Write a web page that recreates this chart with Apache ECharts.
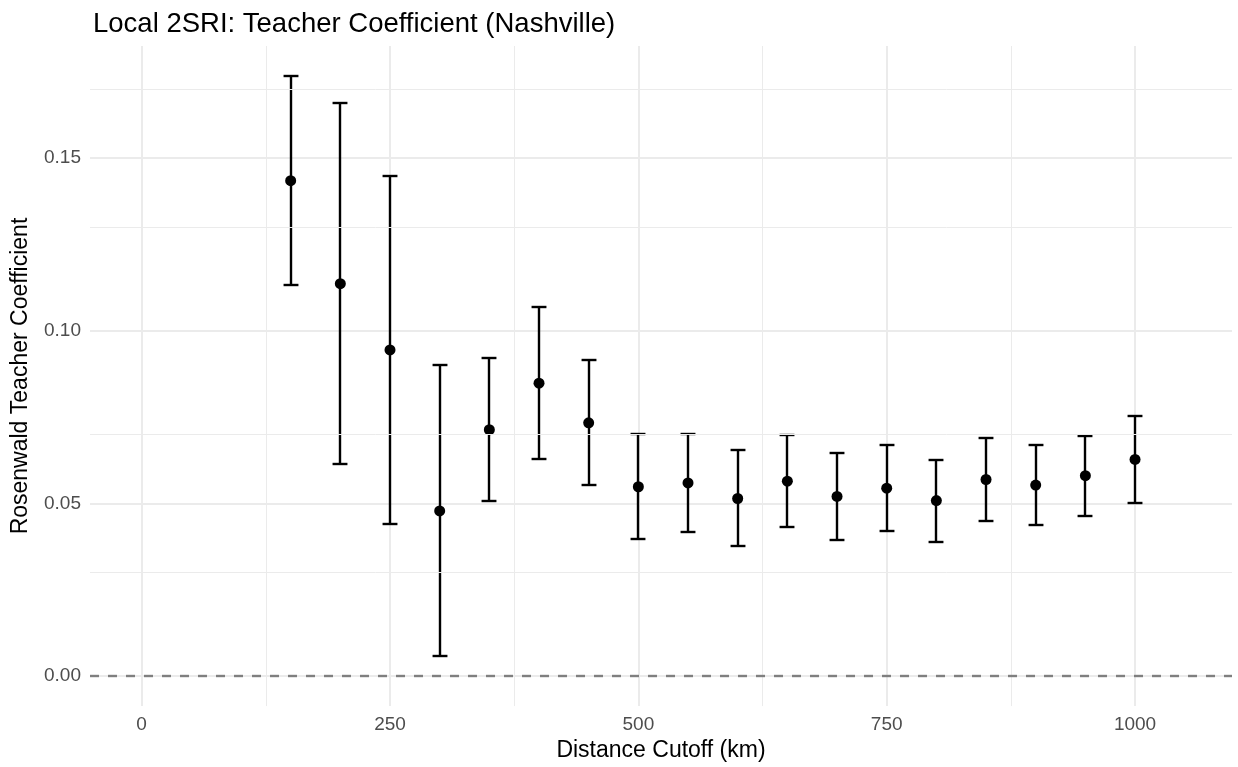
<!DOCTYPE html>
<html><head><meta charset="utf-8">
<script src="https://cdn.jsdelivr.net/npm/echarts@6/dist/echarts.min.js"></script>
<style>html,body{margin:0;padding:0;background:#fff}#chart{width:1238px;height:767px}</style>
</head><body><div id="chart"></div>
<script>
const distance = [150,200,250,300,350,400,450,500,550,600,650,700,750,800,850,900,950,1000];
const estimate = [0.1434,0.1136,0.0944,0.0478,0.0713,0.0848,0.0733,0.0548,0.0559,0.0514,0.0564,0.0520,0.0544,0.0508,0.0569,0.0553,0.0580,0.0627];
const lower    = [0.1131,0.0614,0.0440,0.0057,0.0506,0.0627,0.0552,0.0396,0.0417,0.0376,0.0431,0.0394,0.0420,0.0389,0.0448,0.0437,0.0464,0.0501];
const upper    = [0.1737,0.1658,0.1448,0.0900,0.0920,0.1069,0.0914,0.0702,0.0701,0.0653,0.0698,0.0647,0.0668,0.0626,0.0690,0.0670,0.0696,0.0753];
const xMajorTicks = [0,250,500,750,1000];
const xMinorTicks = [125,375,625,875];
const yMajorTicks = [0,0.05,0.10,0.15];
const yMinorTicks = [0.025,0.075,0.125,0.175];
const refLine = 0;

const FONT = '"Liberation Sans", Arial, sans-serif';
const capWidth = 15;
const chart = echarts.init(document.getElementById('chart'), null, {renderer:'canvas'});
const barData = distance.map((d,i)=>[d, lower[i], upper[i]]);
const pointData = distance.map((d,i)=>[d, estimate[i]]);
const minorLines = xMinorTicks.map(v=>({xAxis:v})).concat(yMinorTicks.map(v=>({yAxis:v})));

chart.setOption({
  animation:false,
  backgroundColor:'#ffffff',
  title:{text:'Local 2SRI: Teacher Coefficient (Nashville)', left:88, top:5,
    textStyle:{fontFamily:FONT, fontSize:27.5, fontWeight:'normal', color:'#000', lineHeight:28}},
  grid:{left:90, right:6, top:46, bottom:60, containLabel:false},
  xAxis:{type:'value', min:-52, max:1097.6,
    name:'Distance Cutoff (km)', nameLocation:'middle', nameGap:31,
    nameTextStyle:{fontFamily:FONT, fontSize:23, color:'#000'},
    axisLine:{show:false},
    axisTick:{show:false, customValues:xMajorTicks},
    axisLabel:{customValues:xMajorTicks, margin:9, fontFamily:FONT, fontSize:19, color:'#4d4d4d',
      formatter:v=>String(v)},
    splitLine:{show:true, lineStyle:{color:'#ebebeb', width:2}}
  },
  yAxis:{type:'value', min:-0.0087, max:0.1824,
    name:'Rosenwald Teacher Coefficient', nameLocation:'middle', nameGap:58, nameRotate:90,
    nameTextStyle:{fontFamily:FONT, fontSize:23, color:'#000'},
    axisLine:{show:false},
    axisTick:{show:false, customValues:yMajorTicks},
    axisLabel:{customValues:yMajorTicks, margin:9, fontFamily:FONT, fontSize:19, color:'#4d4d4d',
      formatter:v=>v.toFixed(2)},
    splitLine:{show:true, lineStyle:{color:'#ebebeb', width:2}}
  },
  series:[
    {type:'line', data:[], z:1, silent:true,
      markLine:{silent:true, symbol:'none', label:{show:false}, animation:false,
        lineStyle:{color:'#ebebeb', width:1, type:'solid'}, emphasis:{disabled:true},
        data:minorLines}},
    {type:'line', data:[], z:2, silent:true,
      markLine:{silent:true, symbol:'none', label:{show:false}, animation:false,
        lineStyle:{color:'#7f7f7f', width:2.4, type:[9,9]}, emphasis:{disabled:true},
        data:[{yAxis:refLine}]}},
    {type:'custom', z:3, data:barData, encode:{x:0, y:[1,2]},
      renderItem:function(params, api){
        const x = api.value(0), lo = api.value(1), hi = api.value(2);
        const pT = api.coord([x, hi]);
        const pB = api.coord([x, lo]);
        const hw = api.size([capWidth, 0])[0]/2;
        const cx = Math.round(pT[0]);
        const yT = Math.round(pT[1]), yB = Math.round(pB[1]);
        const st = {stroke:'#000', lineWidth:2.4, fill:null};
        return {type:'group', children:[
          {type:'line', shape:{x1:cx, y1:yT, x2:cx, y2:yB}, style:st},
          {type:'line', shape:{x1:cx-hw, y1:yT, x2:cx+hw, y2:yT}, style:st},
          {type:'line', shape:{x1:cx-hw, y1:yB, x2:cx+hw, y2:yB}, style:st}
        ]};
      }},
    {type:'scatter', z:4, data:pointData, symbol:'circle', symbolSize:11,
      itemStyle:{color:'#000', opacity:1}}
  ]
});
</script></body></html>
